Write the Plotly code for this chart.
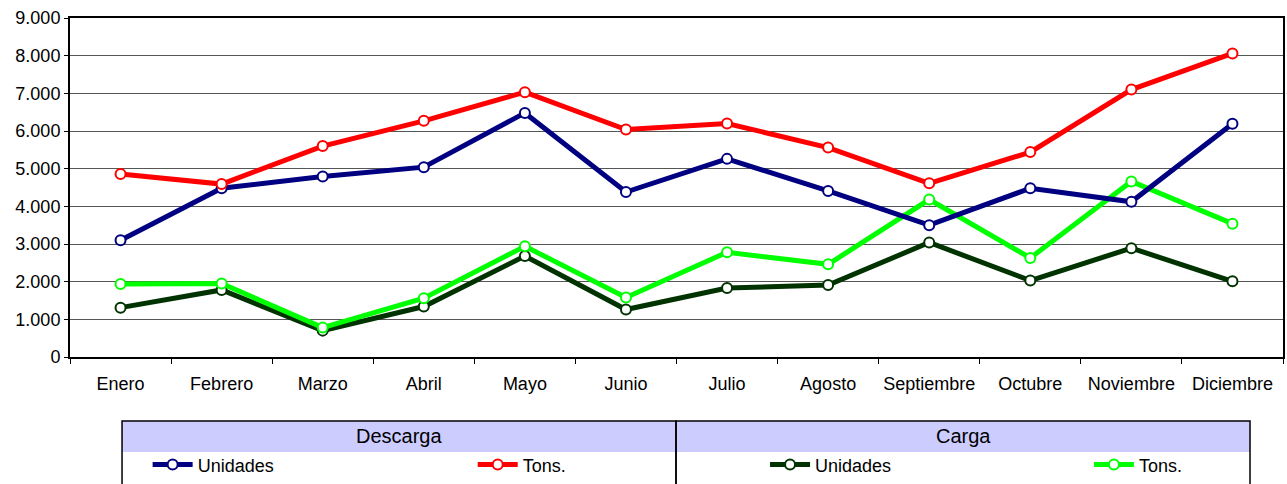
import plotly.graph_objects as go

# Meses
meses = ["Enero", "Febrero", "Marzo", "Abril", "Mayo", "Junio", "Julio",
         "Agosto", "Septiembre", "Octubre", "Noviembre", "Diciembre"]

# Descarga
descarga_unidades = [3100, 4480, 4790, 5040, 6480, 4380, 5260, 4410, 3500, 4480, 4120, 6190]
descarga_tons = [4860, 4590, 5600, 6270, 7030, 6040, 6200, 5560, 4610, 5440, 7100, 8060]

# Carga
carga_unidades = [1310, 1780, 700, 1340, 2680, 1260, 1830, 1910, 3040, 2030, 2890, 2010]
carga_tons = [1940, 1950, 780, 1560, 2940, 1580, 2780, 2460, 4180, 2630, 4660, 3540]

series = [
    ("Unidades", descarga_unidades, "#000080", "legend"),
    ("Tons.", descarga_tons, "#FF0000", "legend2"),
    ("Unidades", carga_unidades, "#003300", "legend3"),
    ("Tons.", carga_tons, "#00FF00", "legend4"),
]

fig = go.Figure()

# dibujar primero las de carga para que queden debajo
for nombre, valores, color, leyenda in [series[2], series[3], series[0], series[1]]:
    fig.add_trace(go.Scatter(
        x=meses,
        y=valores,
        mode="lines+markers",
        name=nombre,
        legend=leyenda,
        line=dict(color=color, width=5),
        marker=dict(symbol="circle", size=10, color="white",
                    line=dict(color=color, width=2)),
    ))

fuente = dict(family="Liberation Sans, Arial, sans-serif", size=18, color="black")

def leyenda_en(x):
    return dict(x=x, y=-0.318, xanchor="left", yanchor="middle",
                bgcolor="rgba(0,0,0,0)", font=fuente, itemwidth=40,
                tracegroupgap=0)

# Cuadro de la leyenda (Descarga / Carga)
x0, xm, x1 = 0.0429, 0.4996, 0.9728
y_top, y_hdr, y_bot = -0.189, -0.280, -0.40
formas = [
    dict(type="rect", xref="paper", yref="paper", x0=x0, x1=xm, y0=y_hdr, y1=y_top,
         fillcolor="#CCCCFF", line=dict(width=0), layer="below"),
    dict(type="rect", xref="paper", yref="paper", x0=xm, x1=x1, y0=y_hdr, y1=y_top,
         fillcolor="#CCCCFF", line=dict(width=0), layer="below"),
    dict(type="rect", xref="paper", yref="paper", x0=x0, x1=xm, y0=y_bot, y1=y_top,
         line=dict(color="black", width=1.5)),
    dict(type="rect", xref="paper", yref="paper", x0=xm, x1=x1, y0=y_bot, y1=y_top,
         line=dict(color="black", width=1.5)),
]

fig.update_layout(
    width=1287,
    height=484,
    margin=dict(l=70, r=4, t=18, b=127, autoexpand=False),
    plot_bgcolor="white",
    paper_bgcolor="white",
    font=fuente,
    separators=",.",
    showlegend=True,
    legend=leyenda_en(0.064),
    legend2=leyenda_en(0.332),
    legend3=leyenda_en(0.573),
    legend4=leyenda_en(0.840),
    shapes=formas,
    annotations=[
        dict(text="Descarga", xref="paper", yref="paper", x=(x0 + xm) / 2, y=(y_top + y_hdr) / 2,
             showarrow=False, font=dict(size=20), xanchor="center", yanchor="middle"),
        dict(text="Carga", xref="paper", yref="paper", x=(xm + x1) / 2, y=(y_top + y_hdr) / 2,
             showarrow=False, font=dict(size=20), xanchor="center", yanchor="middle"),
    ],
    xaxis=dict(
        range=[-0.5, 11.5],
        showline=True, linecolor="black", linewidth=2, mirror=True,
        ticks="outside", tickson="boundaries", ticklen=5, tickcolor="black",
        showgrid=False, tickfont=fuente, ticklabelstandoff=9,
    ),
    yaxis=dict(
        range=[0, 9000], dtick=1000, tickformat=",d",
        showline=True, linecolor="black", linewidth=2, mirror=True,
        ticks="outside", ticklen=4, tickcolor="black",
        showgrid=True, gridcolor="#555555", gridwidth=1,
        zeroline=False, tickfont=fuente,
    ),
)

# quitar el margen del body para que la figura quede en la esquina
fig.write_html("out.html", config={"displayModeBar": False},
               post_script="document.body.style.margin='0px';")
